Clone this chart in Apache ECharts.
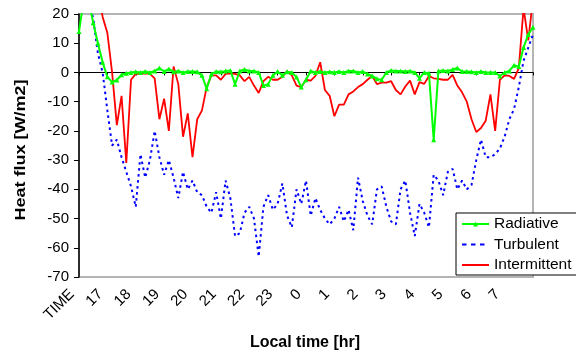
<!DOCTYPE html>
<html>
<head>
<meta charset="utf-8">
<script src="https://cdn.jsdelivr.net/npm/echarts@6/dist/echarts.min.js"></script>
<style>
  html, body { margin: 0; padding: 0; background: #fff; }
  #chart { width: 576px; height: 353px; }
</style>
</head>
<body>
<div id="chart"></div>
<script>
// Heat flux components over one night, sampled every 10 minutes
const STEP_HOURS = 1 / 6;

const hourLabels = ['TIME', '17', '18', '19', '20', '21', '22', '23', '0', '1', '2', '3', '4', '5', '6', '7'];

const radiative = [
  14, 25, 25, 17, 10, 3.5, -1.5, -3.3, -2.6, -0.8, -0.3, 0,
  0.2, 0, 0.3, 0, 0.5, 1.5, 0.3, 1.2, 0.2, 0.5, 0, 0.3,
  0.3, 0.2, -1, -5.6, -0.5, 0.3, 0.2, 0.5, 0.7, -4, 0.5, 1,
  0.5, 0.5, 0, -4.5, -4, -1, 0.3, -1, 0.2, 0, -1.6, -5,
  -2.5, 0.5, 0, 0.3, 0, 0.2, 0, 0.3, 0, 0.5, 0.5, 0,
  0.3, -0.5, -1.2, -2.2, -2.5, 0, 0.7, 0.5, 0.5, 0.3, 0.5, 0,
  -2, 0, -0.3, -23, 0.5, 0.7, 0.5, 1, 1.5, 0.3, 0.3, 0.2,
  0, 0.3, 0, 0, 0, -1.2, 0, 0.5, 2.5, 2, 8.5, 13,
  15.5
];

const turbulent = [
  30, 30, 25, 18.5, 6.5, 0, -13, -25, -23, -29, -34, -39,
  -46, -28, -36, -30, -20, -29, -35, -30, -36, -43, -34, -40,
  -37, -41, -42, -46, -48, -41, -50, -37, -43, -56, -55, -48,
  -46, -50, -63, -46, -42, -47, -45, -38, -49, -53, -40, -45,
  -37, -49, -43, -47, -50, -52, -50, -46, -51, -47, -54, -36,
  -44, -49, -52, -40, -39, -46, -51, -52, -40, -37, -48, -56,
  -45, -48, -53, -35, -37, -42, -34, -33, -40, -37, -40, -38.5,
  -30, -23, -29, -29, -28, -26, -22, -16, -12.5, -5, 4, 8.5,
  13
];

const intermittent = [
  35, 35, 35, 35, 28, 19, 13.5, 0, -18, -8, -31, -2.5,
  -0.5, -0.5, -0.3, -0.5, -2, -16, -9, -20, 2, -4, -22, -14,
  -29, -16, -13, -5, -1, -1, -2.5, -0.5, -0.3, -0.5, -1, -3,
  -1.5, -4.5, -7, -3, -1.5, -2.5, -2.5, -1.5, 0.5, -1, -4.5, -5,
  -2.5, -2.8, -1.2, 3.5, -6, -8, -15, -11, -11, -7.5, -6.5, -5,
  -4, -2.5, -1.2, -4, -3.5, -3.5, -3, -6, -7.5, -4.8, -2.8, -7.5,
  -3.3, -3.9, -1.2, -2, -2.2, -2.5, -2.5, -0.8, -4.5, -6.8, -10, -16,
  -20.4, -19, -16.5, -7.5, -20, -2.5, -1, -1.2, -2.2, 1.5, 22, 11,
  25
];

const FONT = '"Liberation Sans", Arial, sans-serif';
const pairs = vals => vals.map((v, i) => [i * STEP_HOURS, v]);
const noMarker = { color: 'rgba(0,0,0,0)', borderWidth: 0 };

const chart = echarts.init(document.getElementById('chart'));

chart.setOption({
  animation: false,
  backgroundColor: '#fff',
  grid: [
    // plot area
    { left: 79, right: 43, top: 14, bottom: 76, show: true, borderColor: '#b4b4b4', borderWidth: 2 },
    // hour labels sit slightly left of their ticks
    { left: 72, right: 43, top: 14, bottom: 76 }
  ],
  xAxis: [
    {
      gridIndex: 0, type: 'value', min: 0, max: 16, interval: 1,
      axisLine: { onZero: true, lineStyle: { color: '#000', width: 1 } },
      axisTick: { show: true, length: 3, lineStyle: { color: '#000' } },
      axisLabel: { show: false },
      splitLine: { show: false }
    },
    {
      gridIndex: 1, type: 'value', min: 0, max: 16.25, interval: 1, position: 'bottom',
      axisLine: { show: false, onZero: false },
      axisTick: { show: false },
      splitLine: { show: false },
      axisLabel: {
        rotate: 45, margin: 15, fontSize: 15, color: '#000', fontFamily: FONT,
        formatter: v => hourLabels[v] ?? ''
      }
    }
  ],
  yAxis: [
    {
      gridIndex: 0, type: 'value', min: -70, max: 20, interval: 10,
      axisLine: { show: true, lineStyle: { color: '#000', width: 1.5 } },
      axisTick: { show: true, length: 5, lineStyle: { color: '#000' } },
      axisLabel: { margin: 10, fontSize: 15, color: '#000', fontFamily: FONT },
      splitLine: { show: false }
    },
    { gridIndex: 1, type: 'value', min: 0, max: 1, show: false }
  ],
  legend: {
    left: 456, top: 213, orient: 'vertical',
    backgroundColor: '#fff', borderColor: '#000', borderWidth: 1,
    padding: [3, 12, 2, 5], itemGap: 4.5, itemWidth: 27, itemHeight: 6,
    textStyle: { fontSize: 15.5, color: '#000', fontFamily: FONT, lineHeight: 16 },
    data: [
      { name: 'Radiative' },
      { name: 'Turbulent', itemStyle: noMarker, lineStyle: { type: [4.5, 4.5] } },
      { name: 'Intermittent', itemStyle: noMarker }
    ]
  },
  graphic: [
    {
      type: 'text', x: 21, y: 150, rotation: Math.PI / 2, scaleX: 1.2,
      style: { text: 'Heat flux [W/m2]', font: 'bold 15px "Liberation Sans"', align: 'center', verticalAlign: 'middle', fill: '#000' }
    },
    {
      type: 'text', x: 305, y: 343,
      style: { text: 'Local time [hr]', font: 'bold 16px "Liberation Sans"', align: 'center', verticalAlign: 'middle', fill: '#000' }
    }
  ],
  series: [
    {
      name: 'Turbulent', type: 'line', data: pairs(turbulent),
      symbol: 'none', showSymbol: false, z: 2,
      lineStyle: { color: '#0000ff', width: 2, type: [2.5, 3.5] },
      itemStyle: { color: '#0000ff' }
    },
    {
      name: 'Intermittent', type: 'line', data: pairs(intermittent),
      symbol: 'none', showSymbol: false, z: 3,
      lineStyle: { color: '#ff0000', width: 1.8 },
      itemStyle: { color: '#ff0000' }
    },
    {
      name: 'Radiative', type: 'line', data: pairs(radiative),
      symbol: 'triangle', symbolSize: 5, showSymbol: true, z: 4,
      lineStyle: { color: '#00ff00', width: 2 },
      itemStyle: { color: '#00ff00' }
    }
  ]
});
</script>
</body>
</html>
